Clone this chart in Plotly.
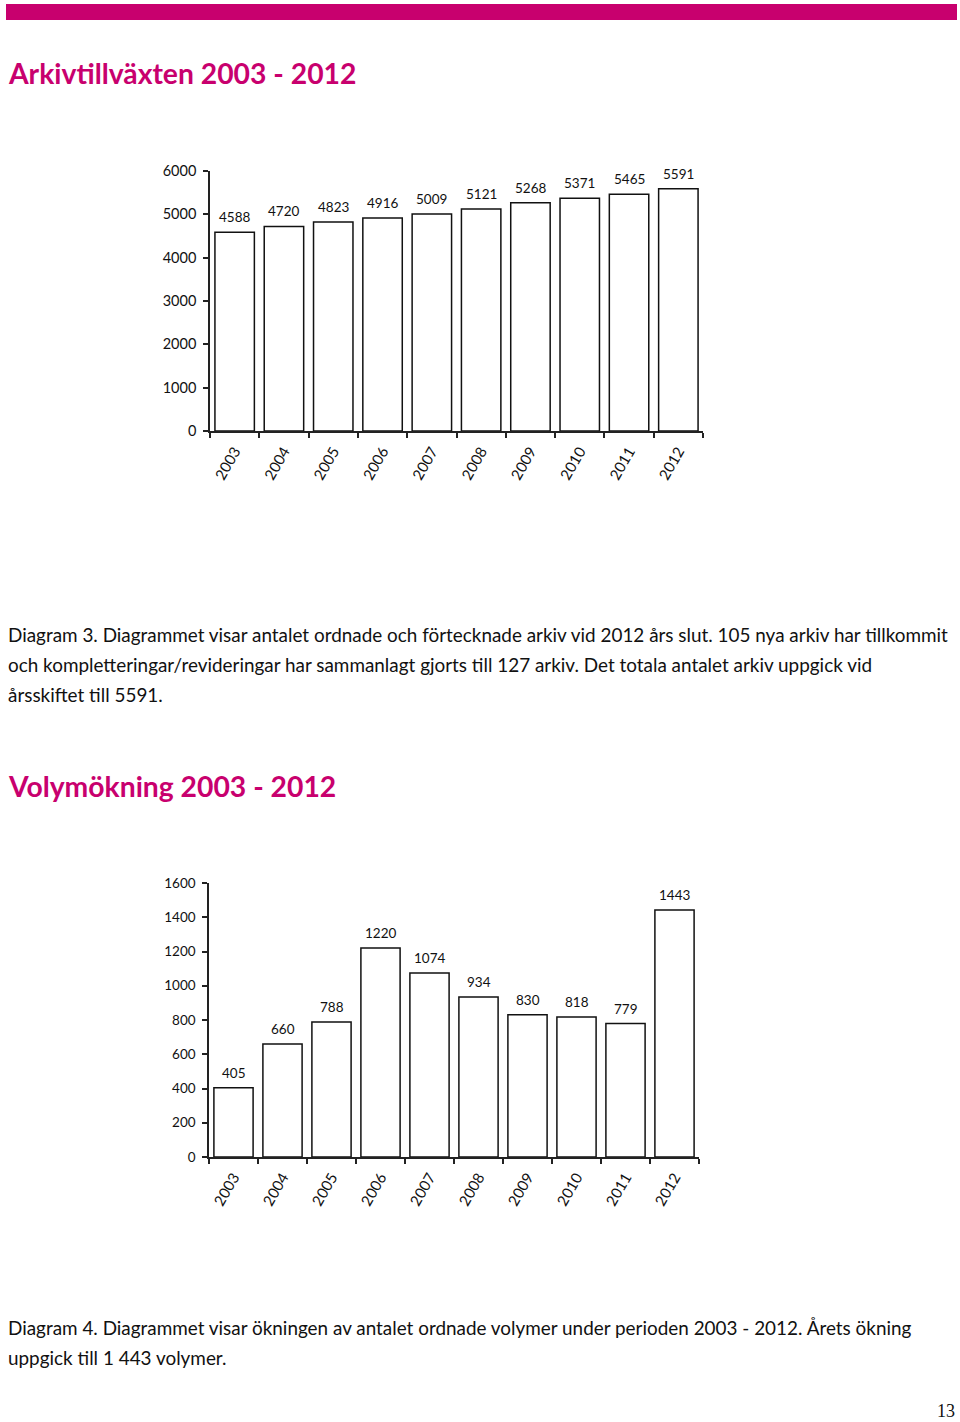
import plotly.graph_objects as go

W, H = 960, 1422
PINK = "#c8006e"
FONT = "Lato"

years = ["2003", "2004", "2005", "2006", "2007", "2008", "2009", "2010", "2011", "2012"]
arkiv = [4588, 4720, 4823, 4916, 5009, 5121, 5268, 5371, 5465, 5591]
volymer = [405, 660, 788, 1220, 1074, 934, 830, 818, 779, 1443]
ticks_arkiv = [0, 1000, 2000, 3000, 4000, 5000, 6000]
ticks_volym = [0, 200, 400, 600, 800, 1000, 1200, 1400, 1600]


def py(pix):
    # pixel row -> paper fraction
    return 1 - pix / H


fig = go.Figure()

for xa, ya, vals in [("x", "y", arkiv), ("x2", "y2", volymer)]:
    fig.add_trace(go.Bar(x=years, y=vals, cliponaxis=False, hoverinfo="skip",
                         marker=dict(color="white", line=dict(color="#111", width=1.5)),
                         xaxis=xa, yaxis=ya))
    # value labels sitting a bit above each bar (x = category index)
    for i, v in enumerate(vals):
        fig.add_annotation(x=i, y=v, xref=xa, yref=ya, text=str(v), showarrow=False,
                           yanchor="middle", yshift=15, font=dict(size=13.5, color="#111"))

axis_common = dict(showgrid=False, zeroline=False, showline=True, linecolor="#222",
                   linewidth=1.5, ticks="outside", ticklen=5, tickcolor="#222",
                   tickwidth=1.5, automargin=False, fixedrange=True)

fig.update_layout(
    width=W, height=H, margin=dict(l=0, r=0, t=0, b=0, pad=0),
    paper_bgcolor="white", plot_bgcolor="white", showlegend=False,
    bargap=0.2, font=dict(family=FONT, color="#111"),
    xaxis=dict(domain=[210 / W, 703 / W], anchor="y", type="category",
               tickson="boundaries", tickangle=-60, tickfont=dict(size=15),
               ticklabelstandoff=4, **axis_common),
    yaxis=dict(domain=[py(431), py(171)], anchor="x", range=[0, 6000],
               tickvals=ticks_arkiv, tickfont=dict(size=14.5), ticklabelstandoff=4,
               **axis_common),
    xaxis2=dict(domain=[209 / W, 699 / W], anchor="y2", type="category",
                tickson="boundaries", tickangle=-60, tickfont=dict(size=15),
                ticklabelstandoff=4, **axis_common),
    yaxis2=dict(domain=[py(1157), py(883)], anchor="x2", range=[0, 1600],
                tickvals=ticks_volym, tickfont=dict(size=13.5), ticklabelstandoff=4,
                **axis_common),
)

# pink header strip
fig.add_shape(type="rect", xref="paper", yref="paper", x0=6 / W, x1=957 / W,
              y0=py(20), y1=py(4), fillcolor=PINK, line=dict(width=0))


def text(s, x, y, size=18.9, color="#111", bold=False, family=FONT):
    if bold:
        s = "<b>" + s + "</b>"
    fig.add_annotation(text=s, xref="paper", yref="paper", x=x / W, y=py(y),
                       xanchor="left", yanchor="middle", showarrow=False,
                       font=dict(size=size, color=color, family=family))


text("Arkivtillväxten 2003 - 2012", 6, 73, size=28.3, color=PINK, bold=True)
text("Diagram 3. Diagrammet visar antalet ordnade och förtecknade arkiv vid 2012 års slut. 105 nya arkiv har tillkommit", 6, 634)
text("och kompletteringar/revideringar har sammanlagt gjorts till 127 arkiv. Det totala antalet arkiv uppgick vid", 6, 664)
text("årsskiftet till 5591.", 6, 694)
text("Volymökning 2003 - 2012", 6, 786, size=28.3, color=PINK, bold=True)
text("Diagram 4. Diagrammet visar ökningen av antalet ordnade volymer under perioden 2003 - 2012. Årets ökning", 6, 1327)
text("uppgick till 1 443 volymer.", 6, 1357)
text("13", 935, 1411, size=18, family="Liberation Serif")

fig.write_html("out.html", config={"displayModeBar": False},
               post_script="document.body.style.margin='0';")
